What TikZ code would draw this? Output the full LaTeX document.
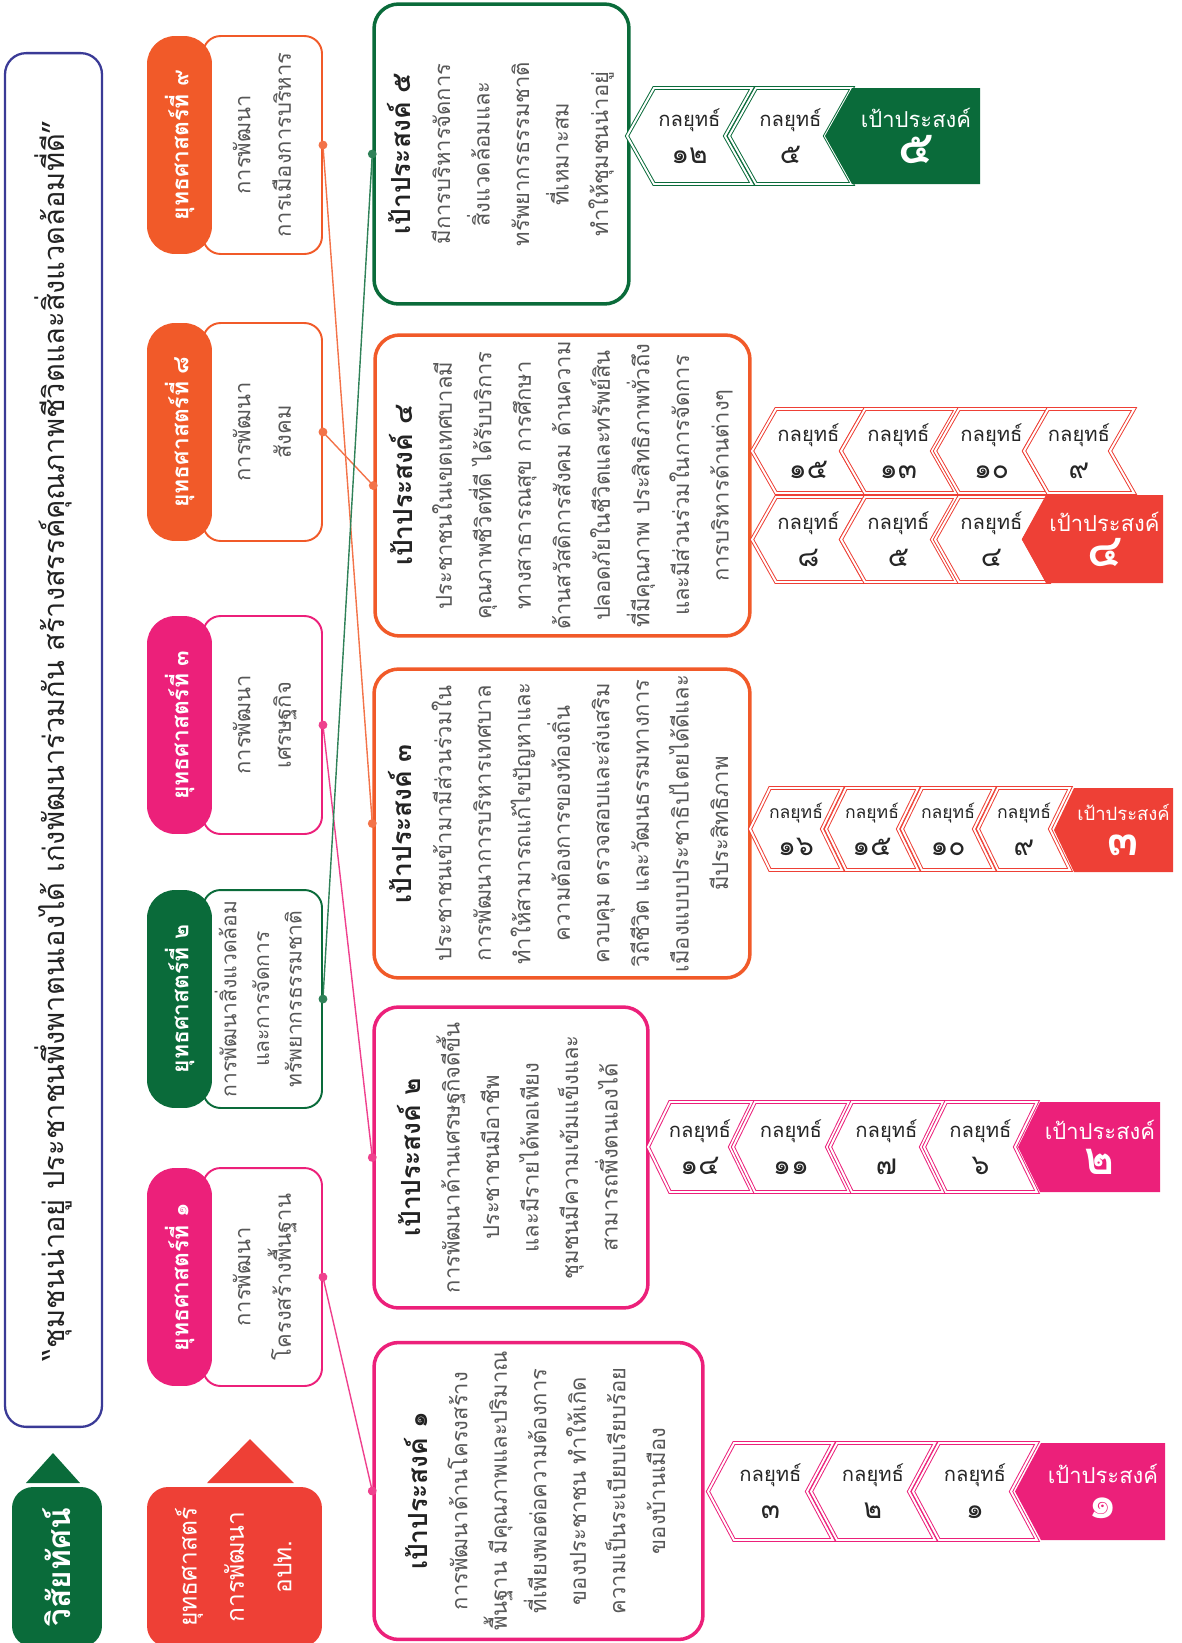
\documentclass[tikz,border=0pt]{standalone}
\usepackage{fontspec}
\setmainfont[Script=Thai]{Loma}
\usepackage{graphicx}
\usetikzlibrary{arrows.meta}

\definecolor{sgreen}{RGB}{10,107,58}
\definecolor{sorange}{RGB}{241,90,41}
\definecolor{spink}{RGB}{236,32,122}
\definecolor{sred}{RGB}{238,64,54}
\definecolor{vblue}{RGB}{58,58,150}
\definecolor{txtgray}{RGB}{88,88,88}
\definecolor{titlegray}{RGB}{35,35,35}

\tikzset{
  visionbox/.style={draw=vblue, line width=1.3pt, rounded corners=12pt, minimum width=1.94cm, minimum height=27.48cm, text=titlegray, font=\fontsize{16.5}{20}\selectfont},
  labelbox/.style={fill=#1, rounded corners=12pt, text=white},
  stratbox/.style={draw=#1, line width=1.1pt, fill=white, rounded corners=10pt, minimum width=2.38cm, minimum height=4.36cm, text=txtgray, font=\fontsize{12.5}{23}\selectfont},
  stratpill/.style={fill=#1, rounded corners=16pt, minimum width=1.3cm, minimum height=4.36cm, text=white, font=\bfseries\fontsize{13}{16}\selectfont},
  goalbox/.style={draw=#1, line width=2pt, fill=white, rounded corners=14pt, text=txtgray, font=\fontsize{12.5}{22.5}\selectfont},
  tacbox/.style={draw=#1, double=white, double distance=1.1pt, line width=0.55pt, fill=white},
  tactext/.style={align=center, inner sep=0pt, text=black!85},
  tagtext/.style={align=center, inner sep=0pt, text=white},
  link/.style={draw=#1!85, line width=0.8pt, arrows={Circle[length=5pt]-Circle[length=5pt]}, shorten <=-2.5pt, shorten >=-2.5pt}
}

\newcommand{\vlines}[1]{\rotatebox{90}{\begin{tabular}{@{}c@{}}#1\end{tabular}}}
\newcommand{\gtitle}[1]{{\color{titlegray}\bfseries\fontsize{15}{22.5}\selectfont #1}}
\def\nd{24}

% chevron: [size] name, colour, x tip, x right, y top, y bottom, number
\newcommand{\tactic}[8][11.5]{%
  \draw[tacbox=#3] (#4,{(#6+#7)/2}) -- (#4+\nd,#6) -- (#5,#6) -- (#5-\nd,{(#6+#7)/2}) -- (#5,#7) -- (#4+\nd,#7) -- cycle;
  \node[tactext, font=\fontsize{#1}{21}\selectfont] (#2) at ({(#4+#5)/2},{(#6+#7)/2}) {กลยุทธ์\\{\fontsize{16}{16}\selectfont #8}};
}
% filled goal tag
\newcommand{\goaltag}[8][12.5]{%
  \fill[#3] (#4,{(#6+#7)/2}) -- (#4+\nd,#6) -- (#5,#6) -- (#5,#7) -- (#4+\nd,#7) -- cycle;
  \node[tagtext, font=\fontsize{#1}{20}\selectfont] (#2) at ({(#4+\nd+#5)/2},{(#6+#7)/2}) {เป้าประสงค์\\{\bfseries\fontsize{26}{26}\selectfont #8}};
}

\begin{document}
\begin{tikzpicture}[x=0.02cm,y=-0.02cm]
  \clip (0,0) rectangle (1181,1643);

  % vision
  \node[visionbox] (vision) at (53.5,740) {\rotatebox{90}{“ชุมชนน่าอยู่ ประชาชนพึ่งพาตนเองได้ เก่งพัฒนาร่วมกัน สร้างสรรค์คุณภาพชีวิตและสิ่งแวดล้อมที่ดี”}};
  \node[labelbox=sgreen, minimum width=1.8cm, minimum height=3.2cm, font=\bfseries\fontsize{18}{24}\selectfont] (lvision) at (57,1567) {\rotatebox{90}{วิสัยทัศน์}};
  \fill[sgreen] (26,1483) -- (53,1453) -- (80,1483) -- cycle;

  % strategy label
  \node[labelbox=sred, minimum width=3.5cm, minimum height=3.2cm, font=\fontsize{14}{27}\selectfont] (lstrat) at (234.5,1567) {\vlines{ยุทธศาสตร์\\การพัฒนา\\อปท.}};
  \fill[sred] (207,1483) -- (250,1439) -- (294,1483) -- cycle;

  % strategies
  \node[stratbox=sorange] (s9) at (262.5,145) {\vlines{การพัฒนา\\การเมืองการบริหาร}};
  \node[stratpill=sorange] (p9) at (179.5,145) {\rotatebox{90}{ยุทธศาสตร์ที่ ๙}};
  \node[stratbox=sorange] (s8) at (262.5,432) {\vlines{การพัฒนา\\สังคม}};
  \node[stratpill=sorange] (p8) at (179.5,432) {\rotatebox{90}{ยุทธศาสตร์ที่ ๘}};
  \node[stratbox=spink] (s3) at (262.5,725) {\vlines{การพัฒนา\\เศรษฐกิจ}};
  \node[stratpill=spink] (p3) at (179.5,725) {\rotatebox{90}{ยุทธศาสตร์ที่ ๓}};
  \node[stratbox=sgreen, font=\fontsize{12}{18.5}\selectfont] (s2) at (262.5,999) {\vlines{การพัฒนาสิ่งแวดล้อม\\และการจัดการ\\ทรัพยากรธรรมชาติ}};
  \node[stratpill=sgreen] (p2) at (179.5,999) {\rotatebox{90}{ยุทธศาสตร์ที่ ๒}};
  \node[stratbox=spink] (s1) at (262.5,1277) {\vlines{การพัฒนา\\โครงสร้างพื้นฐาน}};
  \node[stratpill=spink] (p1) at (179.5,1277) {\rotatebox{90}{ยุทธศาสตร์ที่ ๑}};

  % goals
  \node[goalbox=sgreen, minimum width=5.1cm, minimum height=6cm] (g5) at (501.5,154) {\vlines{\gtitle{เป้าประสงค์ ๕}\\มีการบริหารจัดการ\\สิ่งแวดล้อมและ\\ทรัพยากรธรรมชาติ\\ที่เหมาะสม\\ทำให้ชุมชนน่าอยู่}};
  \node[goalbox=sorange, minimum width=7.5cm, minimum height=6.02cm] (g4) at (562.5,485.5) {\vlines{\gtitle{เป้าประสงค์ ๔}\\ประชาชนในเขตเทศบาลมี\\คุณภาพชีวิตที่ดี ได้รับบริการ\\ทางสาธารณสุข การศึกษา\\ด้านสวัสดิการสังคม ด้านความ\\ปลอดภัยในชีวิตและทรัพย์สิน\\ที่มีคุณภาพ ประสิทธิภาพทั่วถึง\\และมีส่วนร่วมในการจัดการ\\การบริหารด้านต่างๆ}};
  \node[goalbox=sorange, minimum width=7.52cm, minimum height=6.02cm] (g3) at (562,823.5) {\vlines{\gtitle{เป้าประสงค์ ๓}\\ประชาชนเข้ามามีส่วนร่วมใน\\การพัฒนาการบริหารเทศบาล\\ทำให้สามารถแก้ไขปัญหาและ\\ความต้องการของท้องถิ่น\\ควบคุม ตรวจสอบและส่งเสริม\\วิถีชีวิต และวัฒนธรรมทางการ\\เมืองแบบประชาธิปไตยได้ดีและ\\มีประสิทธิภาพ}};
  \node[goalbox=spink, minimum width=5.48cm, minimum height=6.02cm] (g2) at (511,1157.5) {\vlines{\gtitle{เป้าประสงค์ ๒}\\การพัฒนาด้านเศรษฐกิจดีขึ้น\\ประชาชนมีอาชีพ\\และมีรายได้พอเพียง\\ชุมชนมีความเข้มแข็งและ\\สามารถพึ่งตนเองได้}};
  \node[goalbox=spink, minimum width=6.58cm, minimum height=5.94cm] (g1) at (538.5,1491) {\vlines{\gtitle{เป้าประสงค์ ๑}\\การพัฒนาด้านโครงสร้าง\\พื้นฐาน มีคุณภาพและปริมาณ\\ที่เพียงพอต่อความต้องการ\\ของประชาชน ทำให้เกิด\\ความเป็นระเบียบเรียบร้อย\\ของบ้านเมือง}};

  % tactics of goal 5
  \def\nd{27}
  \tactic{t5a}{sgreen}{627}{752}{88}{184}{๑๒}
  \tactic{t5b}{sgreen}{729}{852}{88}{184}{๕}
  \goaltag{tag5}{sgreen}{825}{980}{88}{184}{๕}

  % tactics of goal 4
  \def\nd{24}
  \tactic{t4a}{sred}{752}{865}{409}{493}{๑๕}
  \tactic{t4b}{sred}{841}{956}{409}{493}{๑๓}
  \tactic{t4c}{sred}{935}{1048}{409}{493}{๑๐}
  \tactic{t4d}{sred}{1024}{1134}{409}{493}{๙}
  \tactic{t4e}{sred}{752}{865}{497}{582}{๘}
  \tactic{t4f}{sred}{841}{956}{497}{582}{๕}
  \tactic{t4g}{sred}{935}{1048}{497}{582}{๔}
  \goaltag{tag4}{sred}{1022}{1163}{495}{583}{๔}

  % tactics of goal 3
  \def\nd{20}
  \tactic[10]{t3a}{sred}{750}{842}{788}{870}{๑๖}
  \tactic[10]{t3b}{sred}{826}{918}{788}{870}{๑๕}
  \tactic[10]{t3c}{sred}{902}{994}{788}{870}{๑๐}
  \tactic[10]{t3d}{sred}{978}{1070}{788}{870}{๙}
  \goaltag[10.5]{tag3}{sred}{1054}{1173}{788}{872}{๓}

  % tactics of goal 2
  \def\nd{22}
  \tactic{t2a}{spink}{648}{752}{1102}{1192}{๑๔}
  \tactic{t2b}{spink}{733}{849}{1102}{1192}{๑๑}
  \tactic{t2c}{spink}{830}{943}{1102}{1192}{๗}
  \tactic{t2d}{spink}{924}{1037}{1102}{1192}{๖}
  \goaltag{tag2}{spink}{1018}{1160}{1102}{1192}{๒}

  % tactics of goal 1
  \def\nd{26}
  \tactic{t1a}{spink}{708}{833}{1443}{1540}{๓}
  \tactic{t1b}{spink}{811}{935}{1443}{1540}{๒}
  \tactic{t1c}{spink}{913}{1037}{1443}{1540}{๑}
  \goaltag{tag1}{spink}{1015}{1165}{1443}{1540}{๑}

  % links strategy -> goal
  \draw[link=sorange] (s9.east) -- (g3.west);
  \draw[link=sorange] (s8.east) -- (g4.west);
  \draw[link=spink] (s3.east) -- (g2.west);
  \draw[link=sgreen] (s2.east) -- (g5.west);
  \draw[link=spink] (s1.east) -- (g1.west);
\end{tikzpicture}
\end{document}
